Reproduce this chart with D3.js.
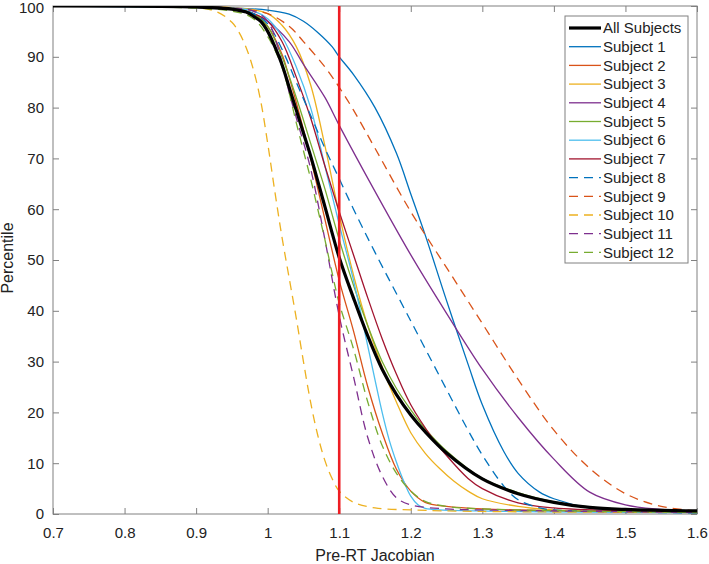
<!DOCTYPE html>
<html>
<head>
<meta charset="utf-8">
<script src="https://cdn.jsdelivr.net/npm/d3@7"></script>
<style>
  body { margin: 0; background: white; }
  text { font-family: Helvetica, Arial, "Liberation Sans", sans-serif; fill: #222; }
</style>
</head>
<body>
<script>
// curves, [jacobian, percentile]
const allSubjects = [[0.7,100],[0.9,99.8],[0.95,99.4],[0.97,98.8],[0.98,98],[0.99,97],[1.0,95],[1.01,92],[1.02,88.5],[1.03,84],[1.04,79.5],[1.05,75],[1.06,70.5],[1.08,60.5],[1.1,50.5],[1.12,42.5],[1.14,35],[1.16,28.5],[1.18,23.5],[1.2,19.5],[1.22,16.2],[1.25,12],[1.3,6.9],[1.35,4],[1.4,2.3],[1.45,1.3],[1.5,0.9],[1.6,0.6]]
const subject1 = [[0.7,100],[0.95,99.6],[1.0,99.2],[1.03,98.4],[1.05,97],[1.07,94.8],[1.09,92],[1.1,90],[1.12,86.5],[1.15,80],[1.18,71],[1.2,63],[1.22,55],[1.25,42],[1.28,29.5],[1.3,21.5],[1.33,12.3],[1.35,8],[1.38,4.3],[1.4,3],[1.45,1.2],[1.5,0.7],[1.6,0.4]]
const subject2 = [[0.7,100],[0.95,99.5],[0.98,98.5],[1.0,96],[1.02,90.5],[1.03,86],[1.04,81],[1.06,70],[1.08,58],[1.1,46],[1.12,36],[1.14,25],[1.16,16],[1.18,8.8],[1.2,4.5],[1.22,2.3],[1.25,1.5],[1.3,1],[1.6,0.3]]
const subject3 = [[0.7,100],[0.95,99.7],[1.0,98.5],[1.02,96.2],[1.04,92],[1.06,84.5],[1.08,72.5],[1.1,59],[1.12,47],[1.14,37],[1.16,29],[1.18,22],[1.2,16],[1.22,12],[1.24,9],[1.26,6.5],[1.28,4.5],[1.3,3],[1.35,1.5],[1.4,0.8],[1.6,0.3]]
const subject4 = [[0.7,100],[0.95,99.5],[0.98,98.5],[1.0,97],[1.03,93],[1.05,88.5],[1.08,82],[1.1,76.5],[1.15,63.5],[1.2,51],[1.25,39.5],[1.3,28.5],[1.35,19],[1.4,10.8],[1.45,4.3],[1.5,1.8],[1.55,0.9],[1.6,0.5]]
const subject5 = [[0.7,100],[0.95,99.5],[0.98,98.5],[1.0,96],[1.02,90],[1.04,82],[1.06,73],[1.08,64],[1.1,54],[1.12,45],[1.14,37],[1.16,30],[1.18,24.7],[1.2,20.5],[1.22,16.8],[1.25,12.4],[1.3,7],[1.35,4.2],[1.4,2.4],[1.45,1.4],[1.5,0.9],[1.6,0.5]]
const subject6 = [[0.7,100],[0.95,99.6],[0.98,99],[1.0,97.5],[1.02,94],[1.04,88],[1.06,80],[1.08,68.5],[1.1,57],[1.12,46],[1.14,33],[1.16,20],[1.17,14.5],[1.18,10.2],[1.19,6.5],[1.2,3.5],[1.21,1.8],[1.22,1.1],[1.3,0.6],[1.6,0.3]]
const subject7 = [[0.7,100],[0.95,99.5],[0.98,98.5],[1.0,97],[1.02,93],[1.04,86],[1.06,78],[1.08,68.5],[1.1,59.5],[1.12,51],[1.14,42.5],[1.16,34.5],[1.18,27.5],[1.2,21.5],[1.23,15],[1.25,11.5],[1.28,7],[1.3,5],[1.35,2.2],[1.4,1.2],[1.5,0.6],[1.6,0.4]]
const subject8 = [[0.7,100],[0.95,99.5],[0.98,98.5],[1.0,96.5],[1.02,91.5],[1.04,85],[1.06,78.5],[1.08,72],[1.1,66],[1.12,60],[1.15,51.5],[1.2,38],[1.25,24.5],[1.28,16.5],[1.3,11.6],[1.33,5.5],[1.35,2.8],[1.38,1.2],[1.4,0.8],[1.5,0.4],[1.6,0.2]]
const subject9 = [[0.7,100],[0.95,99.5],[1.0,98.5],[1.03,96],[1.05,93],[1.08,88],[1.1,84],[1.12,79.5],[1.15,72],[1.2,59.5],[1.25,48.5],[1.3,37.5],[1.35,26.5],[1.4,16.5],[1.45,9],[1.5,4],[1.55,1.5],[1.6,0.6]]
const subject10 = [[0.7,100],[0.9,99.7],[0.93,98.8],[0.95,96.8],[0.96,94.8],[0.97,91.8],[0.98,87.5],[0.99,81.5],[1.0,73],[1.01,63.5],[1.02,54.5],[1.03,46.5],[1.04,38.5],[1.05,30],[1.06,22],[1.07,15.5],[1.08,10.5],[1.09,7],[1.1,4.5],[1.12,2.3],[1.15,1.2],[1.2,0.8],[1.3,0.5],[1.6,0.3]]
const subject11 = [[0.7,100],[0.95,99.6],[0.98,99],[1.0,97],[1.02,89],[1.03,83],[1.04,78],[1.06,68],[1.08,54],[1.1,39],[1.12,27],[1.14,15],[1.16,7.5],[1.18,3.2],[1.2,1.8],[1.25,1],[1.3,0.8],[1.6,0.3]]
const subject12 = [[0.7,100],[0.95,99],[0.98,97.5],[1.0,94],[1.02,88],[1.04,77],[1.05,71.5],[1.06,66],[1.07,60],[1.08,54],[1.09,47.5],[1.1,41.5],[1.12,32.5],[1.14,22],[1.16,13.5],[1.18,8],[1.2,4.5],[1.22,2.5],[1.25,1.5],[1.3,1],[1.6,0.3]]

const subjectNames = ["Subject 1","Subject 2","Subject 3","Subject 4","Subject 5","Subject 6","Subject 7","Subject 8","Subject 9","Subject 10","Subject 11","Subject 12"]
const subjectData = [subject1,subject2,subject3,subject4,subject5,subject6,subject7,subject8,subject9,subject10,subject11,subject12]
const matlabColors = ["#0072BD","#D95319","#EDB120","#7E2F8E","#77AC30","#4DBEEE","#A2142F"]
const xTicks = [0.7,0.8,0.9,1.0,1.1,1.2,1.3,1.4,1.5,1.6]
const yTicks = [0,10,20,30,40,50,60,70,80,90,100]
const threshold = 1.1

const margin = {top: 6, right: 12, bottom: 50, left: 53},
  width = 709 - margin.left - margin.right,
  height = 564 - margin.top - margin.bottom

const svg = d3.select("body")
  .append("svg")
  .attr("width", 709)
  .attr("height", 564)
  .append("g")
  .attr("transform", "translate(" + margin.left + "," + margin.top + ")");

const x = d3.scaleLinear().domain([0.7, 1.6]).range([0, width])
const y = d3.scaleLinear().domain([0, 100]).range([height, 0])

svg.append("clipPath").attr("id", "plot-clip")
  .append("rect").attr("width", width).attr("height", height)

// axes, MATLAB style: ticks inside, box on
const fmt = d => String(+d.toFixed(1))
const axisColor = "#808080"
function styleAxis(g, hideText) {
  g.select(".domain").remove()
  g.selectAll(".tick line").attr("stroke", axisColor)
  g.selectAll(".tick text").style("font-size", "15px").attr("fill", "#222")
  if (hideText) g.selectAll(".tick text").remove()
}
svg.append("g").attr("transform", "translate(0," + height + ")")
  .call(d3.axisBottom(x).tickValues(xTicks).tickFormat(fmt).tickSizeInner(-6).tickSizeOuter(0).tickPadding(13))
  .call(g => styleAxis(g, false))
svg.append("g")
  .call(d3.axisTop(x).tickValues(xTicks).tickSizeInner(-6).tickSizeOuter(0))
  .call(g => styleAxis(g, true))
svg.append("g")
  .call(d3.axisLeft(y).tickValues(yTicks).tickSizeInner(-6).tickSizeOuter(0).tickPadding(9))
  .call(g => styleAxis(g, false))
  .call(g => g.selectAll(".tick text").filter(d => d === 100).attr("dy", "0.42em"))
svg.append("g").attr("transform", "translate(" + width + ",0)")
  .call(d3.axisRight(y).tickValues(yTicks).tickSizeInner(-6).tickSizeOuter(0))
  .call(g => styleAxis(g, true))

svg.append("rect")
  .attr("width", width).attr("height", height)
  .attr("fill", "none").attr("stroke", axisColor).attr("stroke-width", 1)

const line = d3.line()
  .x(d => x(d[0]))
  .y(d => y(d[1]))
  .curve(d3.curveCatmullRom.alpha(0.5))

const plot = svg.append("g").attr("clip-path", "url(#plot-clip)")

// subjects 1-7 solid, 8-12 dashed reusing the colour order
const series = subjectData.map((d, i) => ({
  name: subjectNames[i],
  values: d,
  color: matlabColors[i % 7],
  dash: i >= 7 ? "9,6" : null,
  width: 1.3
}))

plot.selectAll(".subject")
  .data(series)
  .enter()
  .append("path")
  .attr("class", "subject")
  .attr("d", d => line(d.values))
  .attr("fill", "none")
  .attr("stroke", d => d.color)
  .attr("stroke-width", d => d.width)
  .attr("stroke-dasharray", d => d.dash)

plot.append("path")
  .attr("d", line(allSubjects))
  .attr("fill", "none")
  .attr("stroke", "black")
  .attr("stroke-width", 3.2)

plot.append("line")
  .attr("x1", x(threshold)).attr("x2", x(threshold))
  .attr("y1", 0).attr("y2", height)
  .attr("stroke", "#ee1d23")
  .attr("stroke-width", 2.6)

// axis labels
svg.append("text")
  .attr("x", width / 2).attr("y", height + 47)
  .attr("text-anchor", "middle")
  .style("font-size", "16px")
  .text("Pre-RT Jacobian")

svg.append("text")
  .attr("transform", "rotate(-90)")
  .attr("x", -height / 2 + 2).attr("y", -40)
  .attr("text-anchor", "middle")
  .style("font-size", "16px")
  .text("Percentile")

// legend
const legendItems = [{name: "All Subjects", color: "black", dash: null, width: 3.2}].concat(series)
const legend = svg.append("g").attr("transform", "translate(" + (565 - margin.left) + "," + (16 - margin.top) + ")")
legend.append("rect")
  .attr("width", 123).attr("height", 247)
  .attr("fill", "white").attr("stroke", axisColor).attr("stroke-width", 1)

const rows = legend.selectAll(".row")
  .data(legendItems)
  .enter()
  .append("g")
  .attr("class", "row")
  .attr("transform", (d, i) => "translate(0," + (12 + i * 18.7) + ")")
rows.append("line")
  .attr("x1", 4).attr("x2", 36)
  .attr("stroke", d => d.color)
  .attr("stroke-width", d => d.width)
  .attr("stroke-dasharray", d => d.dash)
rows.append("text")
  .attr("x", 38).attr("dy", "0.35em")
  .style("font-size", "15px")
  .text(d => d.name)
</script>
</body>
</html>
